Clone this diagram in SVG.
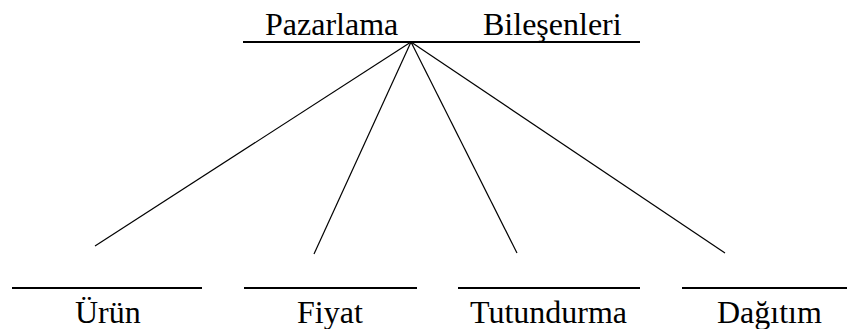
<svg xmlns="http://www.w3.org/2000/svg" width="847" height="329" viewBox="0 0 847 329">
<style>
text{font-family:"Liberation Serif","Times New Roman",serif;font-size:32px;fill:#000}
.bar{stroke:#000;stroke-width:2.2}
.con{stroke:#000;stroke-width:1.2;fill:none}
</style>
<rect width="847" height="329" fill="#fff"/>
<g id="root">
<line class="bar" x1="243" y1="42" x2="640" y2="42"/>
<text x="265" y="35">Pazarlama</text>
<text x="483" y="35">Bileşenleri</text>
</g>
<g id="urun">
<line class="bar" x1="12" y1="288" x2="202" y2="288"/>
<text x="75" y="323">Ürün</text>
</g>
<g id="fiyat">
<line class="bar" x1="244" y1="288" x2="417" y2="288"/>
<text x="297" y="323">Fiyat</text>
</g>
<g id="tutundurma">
<line class="bar" x1="458" y1="288" x2="640" y2="288"/>
<text x="470" y="323">Tutundurma</text>
</g>
<g id="dagitim">
<line class="bar" x1="682" y1="288" x2="847" y2="288"/>
<text x="717" y="323">Dağıtım</text>
</g>
<g id="connectors">
<line class="con" x1="411" y1="42" x2="95" y2="246"/>
<line class="con" x1="411" y1="42" x2="314" y2="254"/>
<line class="con" x1="411" y1="42" x2="517" y2="253"/>
<line class="con" x1="411" y1="42" x2="725" y2="253"/>
</g>
</svg>
